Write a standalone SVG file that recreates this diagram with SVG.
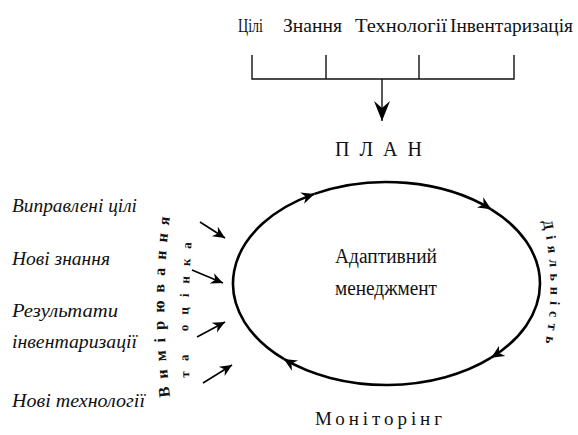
<svg xmlns="http://www.w3.org/2000/svg" width="578" height="435" viewBox="0 0 578 435">
<style>
  text { font-family: 'Liberation Serif', 'Times New Roman', 'DejaVu Serif', serif; fill: #111; }
  .it { font-style: italic; font-size: 18px; }
  .ln { fill: none; stroke: #111; stroke-width: 1.4; }
  .cyc { fill: none; stroke: #000; stroke-width: 2.6; }
  .arr { fill: none; stroke: #000; stroke-width: 1.6; }
</style>
<defs>
  <marker id="ah" viewBox="-14 -7 16 14" markerWidth="16" markerHeight="14" refX="0" refY="0" orient="auto" markerUnits="userSpaceOnUse">
    <path d="M0,0 L-13,-6 L-9,0 L-13,6 Z" fill="#000"/>
  </marker>
  <marker id="ahs" viewBox="-14 -7 16 14" markerWidth="15" markerHeight="13" refX="0" refY="0" orient="auto" markerUnits="userSpaceOnUse">
    <path d="M0,0 L-13,-6 L-9,0 L-13,6 Z" fill="#000"/>
  </marker>
  <marker id="ahb" viewBox="-22 -9 24 18" markerWidth="24" markerHeight="18" refX="0" refY="0" orient="auto" markerUnits="userSpaceOnUse">
    <path d="M0,0 L-20,-8 L-13,0 L-20,8 Z" fill="#000"/>
  </marker>
  <path id="p1" d="M172,410 Q156,303 173,196"/>
  <path id="p2" d="M190,394 Q185,305 194,216"/>
  <path id="p3" d="M538,203 Q562,285 540,367"/>
</defs>

<g id="inputs-top">
  <text x="238" y="32" font-size="19" textLength="25" lengthAdjust="spacingAndGlyphs">Цілі</text>
  <text x="283" y="32" font-size="19" textLength="59" lengthAdjust="spacingAndGlyphs">Знання</text>
  <text x="355" y="32" font-size="19" textLength="92" lengthAdjust="spacingAndGlyphs">Технології</text>
  <text x="450" y="32" font-size="19" textLength="123" lengthAdjust="spacingAndGlyphs">Інвентаризація</text>
</g>

<g id="connectors">
  <path class="ln" d="M252,55 V79 H514 V55 M326,55 V79 M419,55 V79"/>
  <path class="ln" d="M382,79 V121" marker-end="url(#ahb)"/>
  <path class="cyc" d="M283.79,358.93 A153.5,101.5 0 0 1 314.44,193.88" marker-end="url(#ah)"/>
  <path class="cyc" d="M314.44,193.88 A153.5,101.5 0 0 1 491.19,209.27" marker-end="url(#ah)"/>
  <path class="cyc" d="M491.19,209.27 A153.5,101.5 0 0 1 491.19,357.73" marker-end="url(#ah)"/>
  <path class="cyc" d="M491.19,357.73 A153.5,101.5 0 0 1 283.79,358.93" marker-end="url(#ah)"/>
  <path class="arr" d="M200,222 L225,238" marker-end="url(#ahs)"/>
  <path class="arr" d="M192,270 L223,283" marker-end="url(#ahs)"/>
  <path class="arr" d="M197,337 L225,322" marker-end="url(#ahs)"/>
  <path class="arr" d="M203,383 L232,365" marker-end="url(#ahs)"/>
</g>

<g id="plan">
  <text x="335" y="156" font-size="20" textLength="87" lengthAdjust="spacing">П Л А Н</text>
</g>

<g id="center">
  <text x="335" y="263" font-size="20" textLength="102" lengthAdjust="spacingAndGlyphs">Адаптивний</text>
  <text x="335" y="295" font-size="20" textLength="102" lengthAdjust="spacingAndGlyphs">менеджмент</text>
</g>

<g id="monitoring">
  <text x="315" y="425" font-size="19" textLength="127" lengthAdjust="spacing">Моніторінг</text>
</g>

<g id="activity">
  <text font-size="14" font-weight="bold" letter-spacing="6"><textPath href="#p3" startOffset="50%" text-anchor="middle">Діяльність</textPath></text>
</g>

<g id="measurement">
  <text font-weight="bold" font-size="16" letter-spacing="8" text-anchor="middle"><textPath href="#p1" startOffset="50%">Вимірювання</textPath></text>
  <text font-weight="bold" font-size="13" letter-spacing="10" text-anchor="middle"><textPath href="#p2" startOffset="50%">та оцінка</textPath></text>
</g>

<g id="inputs-left">
  <text class="it" x="12" y="212" textLength="125" lengthAdjust="spacingAndGlyphs">Виправлені цілі</text>
  <text class="it" x="12" y="265" textLength="98" lengthAdjust="spacingAndGlyphs">Нові знання</text>
  <text class="it" x="12" y="317" textLength="106" lengthAdjust="spacingAndGlyphs">Результати</text>
  <text class="it" x="12" y="348" textLength="125" lengthAdjust="spacingAndGlyphs">інвентаризації</text>
  <text class="it" x="12" y="407" textLength="133" lengthAdjust="spacingAndGlyphs">Нові технології</text>
</g>
</svg>
